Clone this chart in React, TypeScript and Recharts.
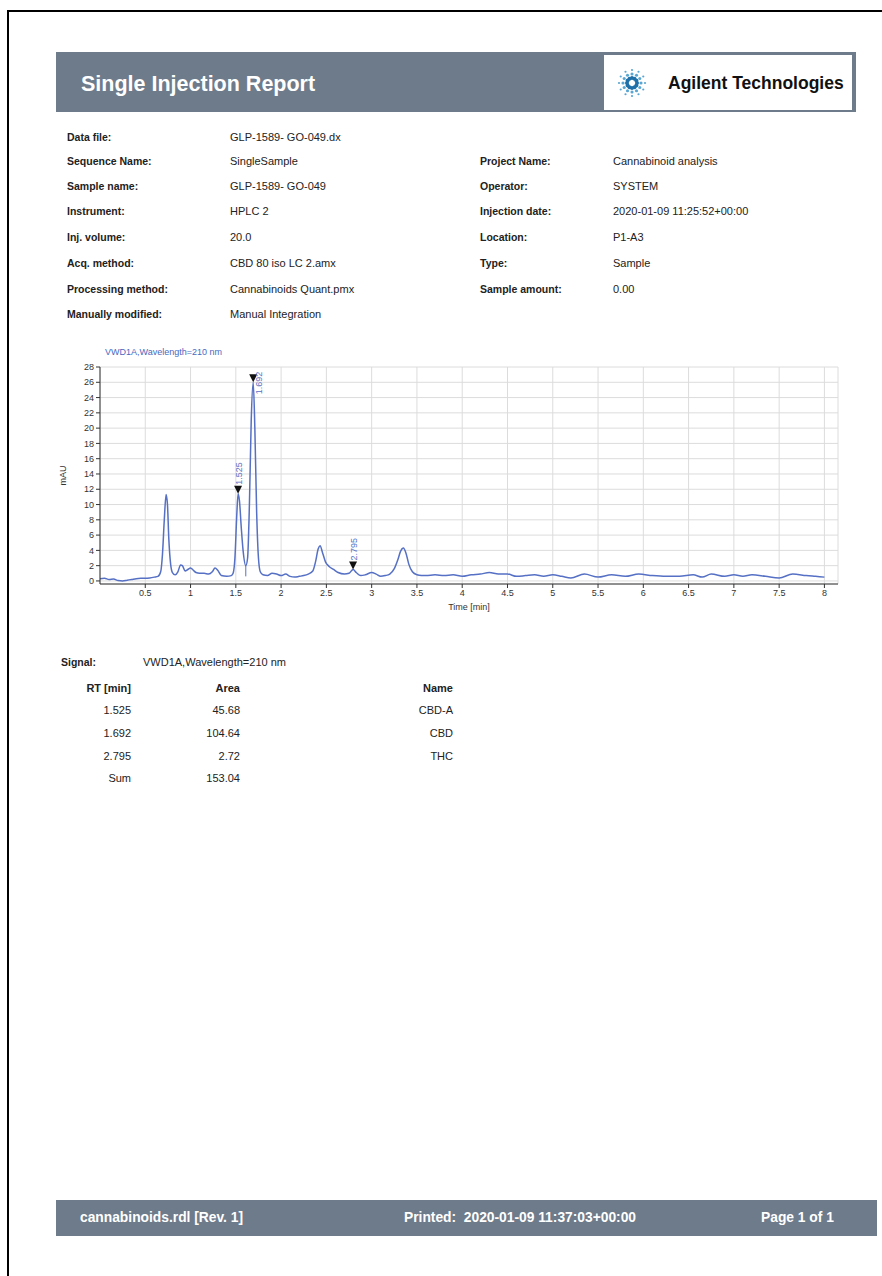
import React from "react";
import {
  ComposedChart,
  Line,
  Scatter,
  XAxis,
  YAxis,
  CartesianGrid,
  ReferenceLine,
  Label,
} from "recharts";

// ---------------- data ----------------
const timeMin = [
  0.0, 0.05, 0.1, 0.15, 0.2, 0.25, 0.3, 0.35, 0.4, 0.45, 0.5, 0.55, 0.6, 0.64, 0.67, 0.69, 0.71, 0.73,
  0.745, 0.76, 0.78, 0.8, 0.83, 0.86, 0.89, 0.91, 0.94, 0.97, 1.0, 1.03, 1.06, 1.1, 1.15, 1.2, 1.24,
  1.27, 1.3, 1.34, 1.4, 1.45, 1.47, 1.49, 1.51, 1.525, 1.54, 1.56, 1.58, 1.61, 1.63, 1.65, 1.67, 1.692,
  1.71, 1.73, 1.75, 1.77, 1.8, 1.85, 1.9, 1.95, 2.0, 2.05, 2.1, 2.15, 2.2, 2.25, 2.3, 2.35, 2.38, 2.41,
  2.43, 2.46, 2.49, 2.53, 2.58, 2.63, 2.7, 2.75, 2.795, 2.83, 2.88, 2.93, 3.0, 3.05, 3.1, 3.15, 3.2,
  3.25, 3.29, 3.32, 3.35, 3.38, 3.41, 3.45, 3.5, 3.55, 3.6, 3.7, 3.8, 3.9, 4.0, 4.1, 4.2, 4.3, 4.4,
  4.5, 4.6, 4.7, 4.8, 4.9, 5.0, 5.1, 5.2, 5.35, 5.5, 5.65, 5.8, 5.95, 6.1, 6.25, 6.4, 6.55, 6.65,
  6.75, 6.9, 7.0, 7.1, 7.2, 7.35, 7.5, 7.65, 7.8, 7.9, 8.0,
];
const signalMAU = [
  0.3, 0.35, 0.2, 0.25, 0.05, 0.0, 0.1, 0.2, 0.3, 0.35, 0.35, 0.4, 0.5, 0.6, 1.2, 3.5, 8.0, 11.3,
  10.0, 5.5, 2.2, 1.1, 0.8, 1.2, 2.1, 2.0, 1.3, 1.5, 1.7, 1.4, 1.1, 1.0, 1.0, 0.9, 1.2,
  1.7, 1.4, 0.7, 0.6, 0.7, 1.0, 3.0, 8.5, 11.4, 10.5, 7.0, 4.0, 2.0, 3.0, 10.0, 21.0, 26.0,
  20.0, 9.0, 3.0, 1.2, 0.8, 0.7, 1.0, 0.9, 0.7, 0.9, 0.6, 0.5, 0.6, 0.7, 0.9, 1.3, 2.5, 4.2,
  4.6, 3.6, 2.5, 1.9, 1.5, 1.1, 0.9, 1.0, 1.5, 1.1, 0.7, 0.8, 1.1, 0.9, 0.6, 0.7, 0.9,
  1.6, 2.8, 3.9, 4.3, 3.6, 2.2, 1.2, 0.8, 0.7, 0.7, 0.8, 0.7, 0.8, 0.6, 0.8, 0.9, 1.1, 0.9,
  0.9, 0.6, 0.7, 0.8, 0.6, 0.8, 0.6, 0.4, 0.9, 0.5, 0.8, 0.6, 0.9, 0.7, 0.6, 0.6, 0.8, 0.5,
  0.9, 0.6, 0.8, 0.6, 0.8, 0.6, 0.4, 0.9, 0.7, 0.6, 0.5,
];

const peakRT = [1.525, 1.692, 2.795];
const peakHeight = [11.4, 26.0, 1.5];
const peakLabels = ["1.525", "1.692", "2.795"];

const dropLineRT = 1.61;
const dropLineRange = [0.6, 2.0];

const xTicks = [0.5, 1, 1.5, 2, 2.5, 3, 3.5, 4, 4.5, 5, 5.5, 6, 6.5, 7, 7.5, 8];
const yTicks = [0, 2, 4, 6, 8, 10, 12, 14, 16, 18, 20, 22, 24, 26, 28];

const infoLeftLabels = [
  "Data file:",
  "Sequence Name:",
  "Sample name:",
  "Instrument:",
  "Inj. volume:",
  "Acq. method:",
  "Processing method:",
  "Manually modified:",
];
const infoLeftValues = [
  "GLP-1589- GO-049.dx",
  "SingleSample",
  "GLP-1589- GO-049",
  "HPLC 2",
  "20.0",
  "CBD 80 iso LC 2.amx",
  "Cannabinoids Quant.pmx",
  "Manual Integration",
];
const infoRightLabels = ["", "Project Name:", "Operator:", "Injection date:", "Location:", "Type:", "Sample amount:", ""];
const infoRightValues = ["", "Cannabinoid analysis", "SYSTEM", "2020-01-09 11:25:52+00:00", "P1-A3", "Sample", "0.00", ""];

const tableRT = ["1.525", "1.692", "2.795", "Sum"];
const tableArea = ["45.68", "104.64", "2.72", "153.04"];
const tableName = ["CBD-A", "CBD", "THC", ""];

const trace = timeMin.map((t, i) => ({ t, v: signalMAU[i] }));
const peaks = peakRT.map((t, i) => ({ t, v: peakHeight[i], label: peakLabels[i] }));

// ---------------- styles ----------------
const FONT = "'Liberation Sans', Arial, Helvetica, sans-serif";
const BAND = "#6e7b8b";
const TRACE = "#5570c4";
const TEXT = "#222";
const CHART_MARGIN = { top: 27, right: 12, bottom: 16, left: 20 };
const LABEL_LEN = 23;

const rowY = [137, 161, 186, 211, 237, 263, 289, 314];
const tableRowY = [688, 710, 733, 756, 778];

const abs = (left: number, top: number, extra: React.CSSProperties = {}): React.CSSProperties => ({
  position: "absolute",
  left,
  top,
  whiteSpace: "nowrap",
  ...extra,
});

const PeakMarker = (props: any) => {
  const { cx, cy, payload } = props;
  if (cx == null || cy == null) return null;
  // label sits above the marker; if it would leave the plot, it moves beside the marker
  const fits = cy - 9 - LABEL_LEN > CHART_MARGIN.top;
  const tx = fits ? cx + 3.5 : cx + 8.5;
  const ty = fits ? cy - 9 : cy + 12;
  return (
    <g>
      <path d={`M${cx - 4},${cy - 8} L${cx + 4},${cy - 8} L${cx},${cy} Z`} fill="#111" />
      <text x={tx} y={ty} transform={`rotate(-90 ${tx} ${ty})`} fontSize={9} fill={TRACE} fontFamily={FONT}>
        {payload.label}
      </text>
    </g>
  );
};

const Starburst = () => {
  const items: React.ReactNode[] = [];
  const rays = 12;
  for (let r = 0; r < rays; r++) {
    const a = (r / rays) * Math.PI * 2;
    const long = r % 3 === 0;
    const n = long ? 4 : 3;
    for (let k = 0; k < n; k++) {
      const d = 5 + k * 4;
      const rad = Math.max(0.6, 2.0 - k * 0.45);
      items.push(
        <circle
          key={`${r}-${k}`}
          cx={16 + Math.cos(a) * d}
          cy={16 + Math.sin(a) * d}
          r={rad}
          fill={k === 0 ? "#1f6fa8" : "#5aa6d2"}
        />
      );
    }
  }
  return (
    <svg width={32} height={32} style={{ position: "absolute", left: 616, top: 67 }}>
      {items}
    </svg>
  );
};

const Chromatogram = () => (
  <div style={{ position: "absolute", left: 40, top: 340 }}>
    <ComposedChart width={810} height={290} data={trace} margin={CHART_MARGIN}>
      <CartesianGrid stroke="#dcdcdc" strokeWidth={1} />
      <XAxis
        dataKey="t"
        type="number"
        domain={[0, 8.15]}
        ticks={xTicks}
        interval={0}
        allowDataOverflow
        height={30}
        tickSize={4}
        tick={{ fontSize: 9, fill: "#333", fontFamily: FONT }}
        axisLine={{ stroke: "#333" }}
        tickLine={{ stroke: "#333" }}
      >
        <Label value="Time [min]" position="insideBottom" offset={4} style={{ fontSize: 9, fill: "#333", fontFamily: FONT }} />
      </XAxis>
      <XAxis
        xAxisId="top"
        orientation="top"
        type="number"
        dataKey="t"
        domain={[0, 8.15]}
        allowDataOverflow
        height={0}
        tick={false}
        tickLine={false}
        axisLine={{ stroke: "#333" }}
      />
      <YAxis
        type="number"
        domain={[-0.4, 28]}
        ticks={yTicks}
        interval={0}
        allowDataOverflow
        width={40}
        tickSize={4}
        tick={{ fontSize: 9, fill: "#333", fontFamily: FONT }}
        axisLine={{ stroke: "#333" }}
        tickLine={{ stroke: "#333" }}
      >
        <Label
          content={(p: any) => {
            const vb = p.viewBox || {};
            const x = (vb.x ?? 0) + 6;
            const y = (vb.y ?? 0) + (vb.height ?? 0) / 2;
            return (
              <text x={x} y={y} transform={`rotate(-90 ${x} ${y})`} textAnchor="middle" fontSize={9} fill="#333" fontFamily={FONT}>
                mAU
              </text>
            );
          }}
        />
      </YAxis>
      <YAxis
        yAxisId="right"
        orientation="right"
        type="number"
        domain={[-0.4, 28]}
        width={0}
        tick={false}
        tickLine={false}
        axisLine={{ stroke: "#333" }}
      />
      <ReferenceLine
        segment={[
          { x: dropLineRT, y: dropLineRange[0] },
          { x: dropLineRT, y: dropLineRange[1] },
        ]}
        stroke={TRACE}
        strokeWidth={1}
      />
      <Line type="monotone" dataKey="v" stroke={TRACE} strokeWidth={1.5} dot={false} isAnimationActive={false} />
      <Scatter data={peaks} dataKey="v" shape={PeakMarker} isAnimationActive={false} />
    </ComposedChart>
  </div>
);

export default function App() {
  const txt: React.CSSProperties = { fontSize: 11, lineHeight: "14px", color: TEXT };
  const lbl: React.CSSProperties = { fontSize: 10.5, lineHeight: "14px", fontWeight: 700, color: TEXT };
  const foot: React.CSSProperties = { fontSize: 13.8, lineHeight: "16px", fontWeight: 700, color: "#fff", whiteSpace: "pre" };
  return (
    <div
      style={{
        position: "absolute",
        left: 0,
        top: 0,
        width: 882,
        height: 1276,
        background: "#fff",
        fontFamily: FONT,
        overflow: "hidden",
      }}
    >
      {/* page frame */}
      <div style={{ position: "absolute", left: 7, top: 10, right: 0, bottom: 0, borderTop: "2px solid #000", borderLeft: "2px solid #000" }} />

      {/* header band */}
      <div style={{ position: "absolute", left: 56, top: 52, width: 800, height: 60, background: BAND }} />
      <div style={abs(81, 71, { fontSize: 21.5, lineHeight: "26px", fontWeight: 700, color: "#fff" })}>Single Injection Report</div>
      <div style={{ position: "absolute", left: 604, top: 55, width: 248, height: 55, background: "#fff" }} />
      <Starburst />
      <div style={abs(668, 72, { fontSize: 17.5, lineHeight: "22px", fontWeight: 700, color: "#111" })}>Agilent Technologies</div>

      {/* info block */}
      {rowY.map((y, i) => (
        <React.Fragment key={i}>
          <div style={abs(67, y - 7, lbl)}>{infoLeftLabels[i]}</div>
          <div style={abs(230, y - 7, txt)}>{infoLeftValues[i]}</div>
          {infoRightLabels[i] && <div style={abs(480, y - 7, lbl)}>{infoRightLabels[i]}</div>}
          {infoRightValues[i] && <div style={abs(613, y - 7, txt)}>{infoRightValues[i]}</div>}
        </React.Fragment>
      ))}

      {/* chart title */}
      <div style={abs(105, 347, { fontSize: 9, lineHeight: "11px", color: "#4a68c0" })}>VWD1A,Wavelength=210 nm</div>
      <Chromatogram />

      {/* signal table */}
      <div style={abs(61, 655, lbl)}>Signal:</div>
      <div style={abs(143, 655, txt)}>VWD1A,Wavelength=210 nm</div>
      <div style={abs(31, tableRowY[0] - 7, { ...lbl, fontSize: 11, width: 100, textAlign: "right" })}>RT [min]</div>
      <div style={abs(140, tableRowY[0] - 7, { ...lbl, fontSize: 11, width: 100, textAlign: "right" })}>Area</div>
      <div style={abs(353, tableRowY[0] - 7, { ...lbl, fontSize: 11, width: 100, textAlign: "right" })}>Name</div>
      {tableRT.map((rt, i) => (
        <React.Fragment key={rt}>
          <div style={abs(31, tableRowY[i + 1] - 7, { ...txt, width: 100, textAlign: "right" })}>{rt}</div>
          <div style={abs(140, tableRowY[i + 1] - 7, { ...txt, width: 100, textAlign: "right" })}>{tableArea[i]}</div>
          {tableName[i] && (
            <div style={abs(353, tableRowY[i + 1] - 7, { ...txt, width: 100, textAlign: "right" })}>{tableName[i]}</div>
          )}
        </React.Fragment>
      ))}

      {/* footer band */}
      <div style={{ position: "absolute", left: 56, top: 1200, width: 821, height: 36, background: BAND }} />
      <div style={abs(80, 1210, foot)}>cannabinoids.rdl [Rev. 1]</div>
      <div style={abs(404, 1210, foot)}>Printed:  2020-01-09 11:37:03+00:00</div>
      <div style={abs(761, 1210, foot)}>Page 1 of 1</div>
    </div>
  );
}
